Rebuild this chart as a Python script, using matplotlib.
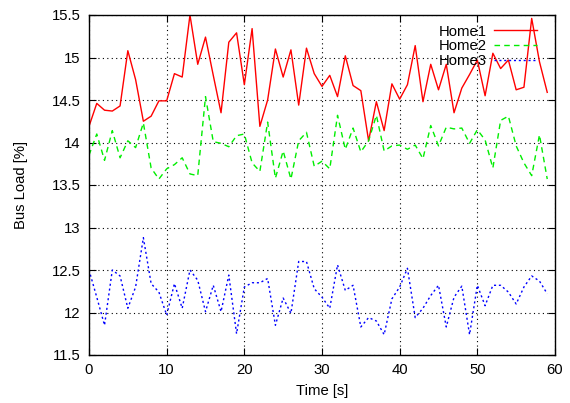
import matplotlib
matplotlib.use("Agg")
import matplotlib.pyplot as plt
import numpy as np

plt.rcParams['font.family'] = ['Liberation Sans', 'DejaVu Sans']

time_s = list(range(60))
home1 = [14.19, 14.46, 14.38, 14.37, 14.43, 15.08, 14.74, 14.25, 14.31, 14.49,
         14.49, 14.81, 14.77, 15.50, 14.92, 15.24, 14.79, 14.35, 15.18, 15.29,
         14.68, 15.34, 14.19, 14.50, 15.10, 14.77, 15.09, 14.44, 15.11, 14.81,
         14.66, 14.79, 14.54, 15.02, 14.67, 14.61, 14.02, 14.48, 14.14, 14.69,
         14.51, 14.68, 15.14, 14.48, 14.92, 14.62, 14.92, 14.35, 14.64, 14.80,
         14.97, 14.55, 15.05, 14.87, 14.97, 14.62, 14.65, 15.46, 14.95, 14.59]
home2 = [13.85, 14.10, 13.79, 14.14, 13.82, 14.02, 13.94, 14.23, 13.70, 13.57,
         13.69, 13.74, 13.82, 13.63, 13.61, 14.54, 14.01, 13.99, 13.95, 14.08,
         14.10, 13.76, 13.66, 14.24, 13.58, 13.90, 13.57, 14.02, 14.12, 13.72,
         13.78, 13.69, 14.32, 13.92, 14.17, 13.89, 14.02, 14.32, 13.90, 13.96,
         13.97, 13.92, 13.97, 13.81, 14.20, 13.96, 14.18, 14.16, 14.17, 13.99,
         14.15, 14.03, 13.70, 14.26, 14.31, 13.96, 13.76, 13.61, 14.09, 13.57]
home3 = [12.50, 12.18, 11.85, 12.50, 12.43, 12.05, 12.30, 12.88, 12.34, 12.24,
         11.97, 12.34, 12.05, 12.50, 12.38, 12.01, 12.32, 12.01, 12.44, 11.75,
         12.30, 12.35, 12.35, 12.40, 11.85, 12.17, 11.99, 12.60, 12.60, 12.28,
         12.18, 12.05, 12.56, 12.26, 12.32, 11.83, 11.94, 11.90, 11.74, 12.16,
         12.30, 12.52, 11.94, 12.05, 12.20, 12.32, 11.83, 12.18, 12.31, 11.74,
         12.32, 12.08, 12.32, 12.32, 12.24, 12.10, 12.30, 12.43, 12.37, 12.22]
series_names = ["Home1", "Home2", "Home3"]
x_ticks = [0, 10, 20, 30, 40, 50, 60]
y_ticks = [11.5, 12, 12.5, 13, 13.5, 14, 14.5, 15, 15.5]
y_tick_labels = ["11.5", "12", "12.5", "13", "13.5", "14", "14.5", "15", "15.5"]

FS = 10.7

fig = plt.figure(figsize=(5.70, 4.03), dpi=100)
ax = fig.add_axes([89/570, 1-355/403, (555-89)/570, (355-15)/403])

ax.plot(time_s, home1, color='#ff0000', lw=1.0, ls='-', label=series_names[0])
ax.plot(time_s, home2, color='#00ee00', lw=1.0, ls=(0, (4, 3)), label=series_names[1])
ax.plot(time_s, home3, color='#0000ff', lw=1.0, ls=(0, (1.5, 2)), label=series_names[2])

ax.set_xlim(0, 60)
ax.set_ylim(11.5, 15.5)
ax.set_xticks(x_ticks)
ax.set_yticks(y_ticks)
ax.set_yticklabels(y_tick_labels)
ax.tick_params(direction='in', top=True, right=True, length=5, width=0.8,
               labelsize=FS)
ax.tick_params(axis='x', pad=6)
ax.tick_params(axis='y', pad=6)
ax.grid(True, color='black', ls=(0, (1, 3)), lw=0.8)
for s in ax.spines.values():
    s.set_linewidth(1.0)

ax.set_xlabel("Time [s]", fontsize=FS, labelpad=5)
ax.set_ylabel("Bus Load [%]", fontsize=FS, labelpad=17)

leg = ax.legend(loc='upper right', frameon=False, markerfirst=False,
                fontsize=FS, handlelength=2.9, handletextpad=0.47,
                labelspacing=0.05, borderaxespad=0.0, borderpad=0.4,
                bbox_to_anchor=(0.974, 0.989))
for t in leg.get_texts():
    t.set_ha('right')

fig.savefig("out.png", dpi=100)
